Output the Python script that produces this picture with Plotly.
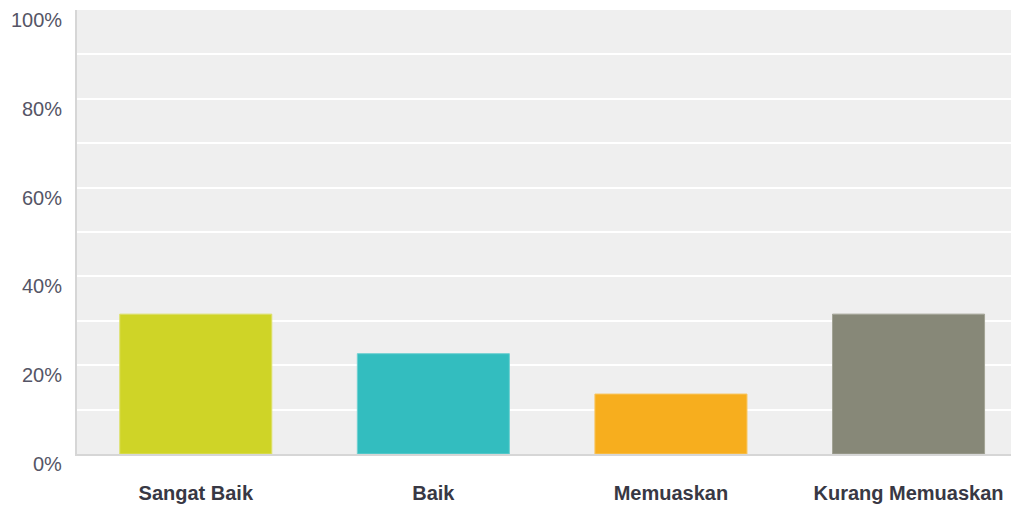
import plotly.graph_objects as go

categories = ["Sangat Baik", "Baik", "Memuaskan", "Kurang Memuaskan"]
values = [31.5, 22.6, 13.5, 31.5]
colors = ["#CFD427", "#33BDBF", "#F7AE1E", "#878878"]
border_colors = ["#DDE06A", "#6FD0D1", "#F9C660", "#A3A496"]
ytick_vals = [0, 20, 40, 60, 80, 100]
ytick_text = ["0%", "20%", "40%", "60%", "80%", "100%"]

fig = go.Figure(go.Bar(
    x=categories, y=values, width=0.64,
    marker=dict(color=colors, line=dict(color=border_colors, width=1)),
    hoverinfo="skip",
))

for v, t in zip(ytick_vals, ytick_text):
    fig.add_annotation(
        x=0, xref="paper", y=v, yref="y", text=t, showarrow=False,
        xanchor="right", yanchor="middle", xshift=-13, yshift=-10,
        font=dict(family="Liberation Sans, Arial", size=20, color="#555566"),
    )

fig.update_layout(
    width=1011, height=498,
    margin=dict(l=69, r=0, t=2, b=52),
    paper_bgcolor="white", plot_bgcolor="#EFEFEF",
    showlegend=False,
    font=dict(family="Liberation Sans, Arial"),
)
fig.update_xaxes(
    range=[-0.5, 3.465], showgrid=False, showline=True, linecolor="#D6D6D6",
    linewidth=2, ticks="", ticklabelstandoff=20,
    tickfont=dict(family="Liberation Sans, Arial", size=20, color="#383844", weight="bold"),
    fixedrange=True,
)
fig.update_yaxes(
    range=[0, 100], dtick=10, showgrid=True, gridcolor="#FFFFFF", gridwidth=2,
    showticklabels=False, showline=True, linecolor="#D6D6D6", linewidth=2,
    zeroline=False, fixedrange=True,
)

fig.write_html("out.html")
